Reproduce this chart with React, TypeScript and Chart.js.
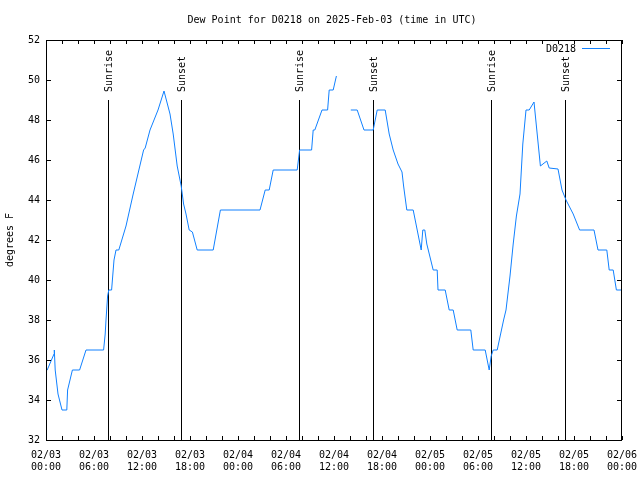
import React, { useEffect, useRef } from "react";
import { Chart, registerables } from "chart.js";

Chart.register(...registerables);

// Hours since 2025-02-03 00:00 UTC
const hours = [
  0, 0.15, 1.0, 1.04, 1.15, 1.5, 2.0, 2.6, 2.7, 3.3, 4.2, 5.0, 7.2, 7.4, 7.5, 7.7, 7.85, 8.2, 8.3, 8.5,
  8.75, 9.1, 10.0, 10.9, 12.2, 12.4, 13.0, 14.0, 14.75, 15.5, 15.9, 16.4, 16.9, 17.2, 17.5, 17.9, 18.3, 18.9,
  20.9, 21.8, 26.75, 27.4, 27.9, 28.4, 31.4, 31.7, 33.2, 33.4, 33.6, 34.5, 35.2, 35.4, 35.9, 36.3, 37.2,
  38.1, 38.9, 39.75, 40.9, 41.4, 42.4, 42.9, 43.4, 44.0, 44.5, 44.7, 45.1, 45.9, 46.3, 46.9, 47.1, 47.35,
  47.6, 48.4, 48.9, 49.0, 49.9, 50.4, 50.9, 51.4, 53.1, 53.4, 54.9, 55.4, 55.65, 55.9, 56.4, 57.2, 57.5,
  58.0, 58.4, 58.8, 59.25, 59.6, 60.0, 60.4, 61.0, 61.3, 61.8, 62.6, 62.9, 64.0, 64.5, 65.0, 65.9, 66.7,
  68.5, 69.0, 70.1, 70.4, 70.9, 71.3, 72,
];

const dewPointF: (number | null)[] = [
  35.5, 35.5, 36.3, 36.5, 35.5, 34.3, 33.5, 33.5, 34.5, 35.5, 35.5, 36.5, 36.5, 37.3, 38.0, 39.2, 39.5, 39.5, 40.0, 41.0,
  41.5, 41.5, 42.7, 44.3, 46.5, 46.6, 47.5, 48.5, 49.45, 48.3, 47.3, 45.7, 44.7, 43.8, 43.3, 42.5, 42.4, 41.5,
  41.5, 43.5, 43.5, 44.5, 44.5, 45.5, 45.5, 46.5, 46.5, 47.5, 47.5, 48.5, 48.5, 49.5, 49.5, 50.2, null,
  48.5, 48.5, 47.5, 47.5, 48.5, 48.5, 47.3, 46.5, 45.8, 45.4, 44.7, 43.5, 43.5, 42.7, 41.5, 42.5, 42.5,
  41.8, 40.5, 40.5, 39.5, 39.5, 38.5, 38.5, 37.5, 37.5, 36.5, 36.5, 35.5, 36.2, 36.5, 36.5, 38.0, 38.5,
  40.2, 41.8, 43.2, 44.3, 46.8, 48.5, 48.5, 48.9, 47.7, 45.7, 45.95, 45.6, 45.55, 44.5, 44.0, 43.3, 42.5,
  42.5, 41.5, 41.5, 40.5, 40.5, 39.5, 39.5,
];

const sunEventHours = [7.79, 16.875, 31.625, 40.9, 55.625, 64.9];
const sunEventLabels = ["Sunrise", "Sunset", "Sunrise", "Sunset", "Sunrise", "Sunset"];
const sunLineTopF = 49;

const xMajorLabels = [
  ["02/03", "00:00"], ["02/03", "06:00"], ["02/03", "12:00"], ["02/03", "18:00"],
  ["02/04", "00:00"], ["02/04", "06:00"], ["02/04", "12:00"], ["02/04", "18:00"],
  ["02/05", "00:00"], ["02/05", "06:00"], ["02/05", "12:00"], ["02/05", "18:00"],
  ["02/06", "00:00"],
];

const seriesName = "D0218";
const titleText = "Dew Point for D0218 on 2025-Feb-03 (time in UTC)";
const yAxisTitle = "degrees F";

const FONT = '"DejaVu Sans Mono", "Liberation Mono", monospace';
const LINE_COLOR = "rgb(16,128,255)";

const gnuplotFrame = {
  id: "gnuplotFrame",
  beforeDatasetsDraw(chart: any) {
    const { ctx, chartArea, scales } = chart;
    const x = scales.x;
    const y = scales.y;
    ctx.save();
    ctx.strokeStyle = "#000";
    ctx.fillStyle = "#000";
    ctx.lineWidth = 1;
    ctx.font = `10px ${FONT}`;
    sunEventHours.forEach((h, i) => {
      const px = Math.round(x.getPixelForValue(h)) + 0.5;
      const top = Math.round(y.getPixelForValue(sunLineTopF));
      ctx.beginPath();
      ctx.moveTo(px, top);
      ctx.lineTo(px, chartArea.bottom);
      ctx.stroke();
      ctx.save();
      ctx.translate(px + 1, top - 8);
      ctx.rotate(-Math.PI / 2);
      ctx.textAlign = "left";
      ctx.textBaseline = "middle";
      ctx.fillText(sunEventLabels[i], 0, 0);
      ctx.restore();
    });
    ctx.restore();
  },
  afterDraw(chart: any) {
    const { ctx, chartArea, scales } = chart;
    const x = scales.x;
    const y = scales.y;
    const { left, right, top, bottom } = chartArea;
    ctx.save();
    // title
    ctx.font = `10px ${FONT}`;
    ctx.fillStyle = "#000";
    ctx.textAlign = "center";
    ctx.textBaseline = "middle";
    ctx.fillText(titleText, (left + right) / 2 - 2, top - 20);
    // border and ticks
    ctx.strokeStyle = "#000";
    ctx.lineWidth = 1;
    ctx.strokeRect(left + 0.5, top + 0.5, right - left - 1, bottom - top);
    ctx.beginPath();
    x.ticks.forEach((t: any) => {
      const px = Math.round(x.getPixelForValue(t.value)) + 0.5;
      ctx.moveTo(px, bottom);
      ctx.lineTo(px, bottom - 4);
      ctx.moveTo(px, top);
      ctx.lineTo(px, top + 4);
    });
    y.ticks.forEach((t: any) => {
      const py = Math.round(y.getPixelForValue(t.value)) + 0.5;
      ctx.moveTo(left, py);
      ctx.lineTo(left + 5, py);
      ctx.moveTo(right, py);
      ctx.lineTo(right - 5, py);
    });
    ctx.stroke();
    // legend
    ctx.textAlign = "right";
    ctx.fillText(seriesName, right - 46, top + 9);
    ctx.strokeStyle = LINE_COLOR;
    ctx.beginPath();
    ctx.moveTo(right - 40, top + 8.5);
    ctx.lineTo(right - 12, top + 8.5);
    ctx.stroke();
    ctx.restore();
  },
};

export default function App() {
  const ref = useRef<HTMLCanvasElement>(null);
  useEffect(() => {
    document.body.style.margin = "0";
    const canvas = ref.current;
    if (!canvas) return;
    const points = hours.map((h, i) => ({ x: h, y: dewPointF[i] }));
    const chart = new Chart(canvas, {
      type: "line",
      data: {
        datasets: [
          {
            label: seriesName,
            data: points as any,
            borderColor: LINE_COLOR,
            borderWidth: 1,
            pointRadius: 0,
            tension: 0,
            spanGaps: false,
            fill: false,
          },
        ],
      },
      options: {
        animation: false,
        responsive: false,
        maintainAspectRatio: false,
        layout: { padding: { left: 0, right: 18, top: 40, bottom: 0 } },
        plugins: {
          legend: { display: false },
          tooltip: { enabled: false },
          title: { display: false },
        },
        scales: {
          x: {
            type: "linear",
            min: 0,
            max: 72,
            grid: { display: false, drawTicks: false },
            border: { display: false },
            afterFit: (s: any) => {
              s.height = 40;
              s.paddingLeft = 0;
              s.paddingRight = 0;
            },
            ticks: {
              stepSize: 2,
              autoSkip: false,
              maxRotation: 0,
              minRotation: 0,
              padding: 9,
              color: "#000",
              font: { family: FONT, size: 10, lineHeight: 1.2 },
              callback: (v: any) => {
                const n = Number(v);
                if (n % 6 !== 0) return "";
                return xMajorLabels[n / 6];
              },
            },
          },
          y: {
            min: 32,
            max: 52,
            grid: { display: false, drawTicks: false },
            border: { display: false },
            afterFit: (s: any) => {
              s.width = 46;
              s.paddingTop = 0;
              s.paddingBottom = 0;
            },
            title: {
              display: true,
              text: yAxisTitle,
              color: "#000",
              font: { family: FONT, size: 10, lineHeight: 1.2 },
              padding: { top: 4, bottom: 4 },
            },
            ticks: {
              stepSize: 2,
              padding: 6,
              color: "#000",
              font: { family: FONT, size: 10, lineHeight: 1.2 },
            },
          },
        },
      },
      plugins: [gnuplotFrame],
    });
    return () => chart.destroy();
  }, []);
  return (
    <div style={{ position: "absolute", left: 0, top: 0, width: 640, height: 480 }}>
      <canvas ref={ref} width={640} height={480} style={{ display: "block" }} />
    </div>
  );
}
